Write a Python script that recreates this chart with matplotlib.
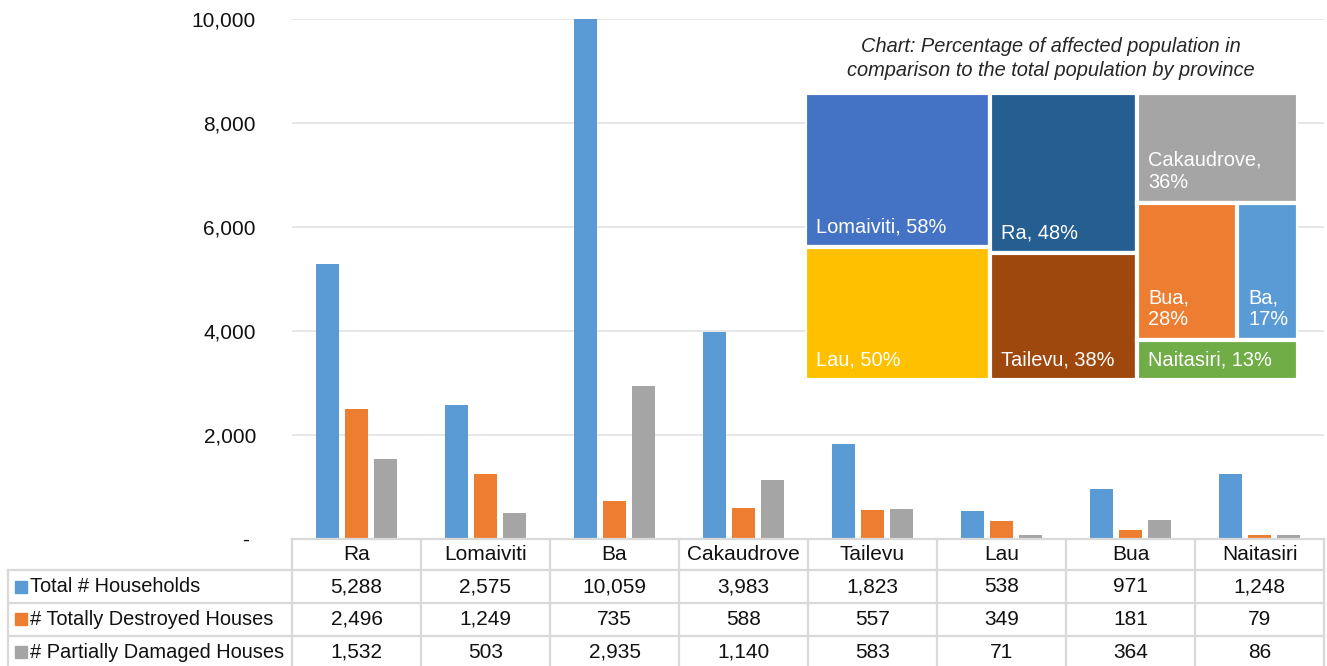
# Cyclone damage by province: clustered bars + data table + treemap inset

import numpy as np
import matplotlib
matplotlib.use("Agg")
from matplotlib import pyplot as plt
from matplotlib.patches import Rectangle
from matplotlib.ticker import FuncFormatter

plt.rcParams['font.family'] = ['Liberation Sans', 'DejaVu Sans']

provinces = ["Ra", "Lomaiviti", "Ba", "Cakaudrove", "Tailevu", "Lau", "Bua", "Naitasiri"]
series_names = ["Total # Households", "# Totally Destroyed Houses", "# Partially Damaged Houses"]
total_households = [5288, 2575, 10059, 3983, 1823, 538, 971, 1248]
totally_destroyed = [2496, 1249, 735, 588, 557, 349, 181, 79]
partially_damaged = [1532, 503, 2935, 1140, 583, 71, 364, 86]
series_colors = ["#5B9BD5", "#ED7D31", "#A5A5A5"]

# treemap: percentage of affected population, grouped in Excel's column order
tm_names = ["Lomaiviti", "Lau", "Ra", "Tailevu", "Cakaudrove", "Bua", "Ba", "Naitasiri"]
tm_pct = [58, 50, 48, 38, 36, 28, 17, 13]
tm_colors = ["#4472C4", "#FFC000", "#255E91", "#9E480E", "#A5A5A5", "#ED7D31", "#5B9BD5", "#70AD47"]

W, H = 1327, 666
fig = plt.figure(figsize=(W / 100, H / 100), dpi=100)


def px_axes(x0, y0, x1, y1):
    return fig.add_axes([x0 / W, 1 - y1 / H, (x1 - x0) / W, (y1 - y0) / H])


# ---- bar chart ----
ax = px_axes(292, 19, 1324, 539)
x = np.arange(len(provinces))
series = [total_households, totally_destroyed, partially_damaged]
offsets = [-0.225, 0.0, 0.225]
for vals, off, col in zip(series, offsets, series_colors):
    ax.bar(x + off, vals, width=0.175, color=col, zorder=2)
ax.set_xlim(-0.5, 7.5)
ax.set_ylim(0, 10000)
ax.set_yticks(range(0, 10001, 2000))
ax.yaxis.set_major_formatter(FuncFormatter(lambda v, p: "- " if v == 0 else f"{v:,.0f}"))
ax.tick_params(axis="y", length=0, pad=26, labelsize=15, labelcolor="#111111")
ax.set_xticks([])
ax.grid(axis="y", color="#E3E3E3", lw=1.2, zorder=0)
for s in ax.spines.values():
    s.set_visible(False)

# ---- data table ----
tax = px_axes(292, 539, 1324, 666)
tax.set_xlim(-0.5, 7.5)
tax.set_ylim(3.85, 0)
tax.axis("off")
col_px = (1324 - 292) / 8
label_left = -0.5 - (292 - 8) / col_px
head_h = 0.94
line_kw = dict(color="#D9D9D9", lw=1.6, clip_on=False)

tax.plot([-0.5, 7.5], [0, 0], **line_kw)
for k in range(9):
    tax.plot([-0.5 + k, -0.5 + k], [0, head_h + 3], **line_kw)
tax.plot([label_left, label_left], [head_h, head_h + 3], **line_kw)
for r in range(3):
    tax.plot([label_left, 7.5], [head_h + r, head_h + r], **line_kw)

for i, name in enumerate(provinces):
    tax.text(i, head_h / 2, name, ha="center", va="center", fontsize=15, color="#111111")
for r, (vals, name, col) in enumerate(zip(series, series_names, series_colors)):
    yc = head_h + r + 0.5
    tax.plot(label_left + 12.5 / col_px, yc, marker="s", ms=8, color=col, clip_on=False)
    tax.text(label_left + 22 / col_px, yc, name, ha="left", va="center", fontsize=14.4, color="#111111")
    for i, v in enumerate(vals):
        tax.text(i, yc, f"{v:,}", ha="center", va="center", fontsize=15, color="#111111")

# ---- treemap inset ----
tm = px_axes(805, 93, 1298, 380)
tm.set_xlim(0, 1)
tm.set_ylim(1, 0)
tm.axis("off")
pct = dict(zip(tm_names, tm_pct))
total = sum(tm_pct)
columns = [[["Lomaiviti"], ["Lau"]], [["Ra"], ["Tailevu"]], [["Cakaudrove"], ["Bua", "Ba"], ["Naitasiri"]]]
rects = {}
x0 = 0.0
for column in columns:
    csum = sum(pct[n] for row in column for n in row)
    cw = csum / total
    y0 = 0.0
    for row in column:
        rsum = sum(pct[n] for n in row)
        rh = rsum / csum
        xx = x0
        for n in row:
            w = cw * pct[n] / rsum
            rects[n] = (xx, y0, w, rh)
            xx += w
        y0 += rh
    x0 += cw

renderer = fig.canvas.get_renderer()
tm_w_px, tm_h_px = 1298 - 805, 380 - 93
for n, col in zip(tm_names, tm_colors):
    rx, ry, rw, rh = rects[n]
    tm.add_patch(Rectangle((rx, ry), rw, rh, facecolor=col, edgecolor="white", lw=3))
    t = tm.text(rx + 11 / tm_w_px, ry + rh - 11 / tm_h_px, f"{n}, {pct[n]}%",
                ha="left", va="bottom", color="white", fontsize=14.4)
    if t.get_window_extent(renderer).width > rw * tm_w_px - 16:
        t.set_text(f"{n},\n{pct[n]}%")

fig.text(1051 / W, 1 - 58.5 / H,
         "Chart: Percentage of affected population in\ncomparison to the total population by province",
         ha="center", va="center", fontsize=14.4, style="italic", color="#262626", linespacing=1.32)

fig.savefig("out.png", dpi=100)
